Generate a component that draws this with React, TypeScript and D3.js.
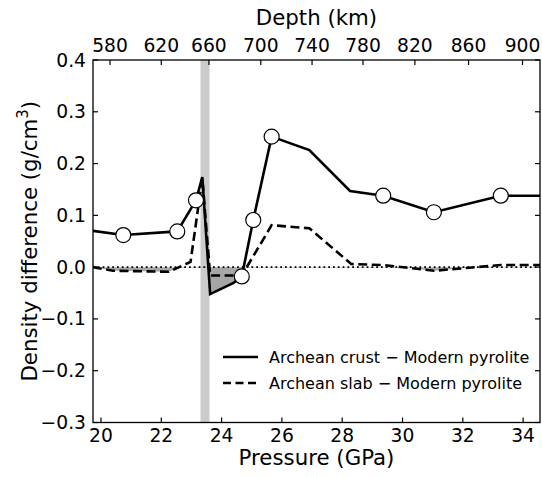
import React from "react";
import * as d3 from "d3";

// Archean crust − Modern pyrolite (solid)
const crustP = [19.73, 20.74, 22.53, 23.15, 23.36, 23.62, 24.38, 24.67, 25.05, 25.66, 26.91, 28.26, 29.36, 31.04, 33.26, 34.57];
const crustV = [0.070, 0.062, 0.069, 0.129, 0.174, -0.052, -0.031, -0.018, 0.091, 0.252, 0.226, 0.147, 0.138, 0.106, 0.138, 0.138];
const crustMarker = [false, true, true, true, false, false, false, true, true, true, false, false, true, true, true, false];

// Archean slab − Modern pyrolite (dashed)
const slabP = [19.73, 20.4, 22.25, 22.97, 23.36, 23.62, 24.67, 25.66, 26.91, 28.3, 29.36, 31.04, 33.26, 34.57];
const slabV = [0.0, -0.007, -0.009, 0.01, 0.172, -0.016, -0.016, 0.081, 0.075, 0.006, 0.004, -0.007, 0.004, 0.004];

const pressureTicks = [20, 22, 24, 26, 28, 30, 32, 34];
const densityTicks = [-0.3, -0.2, -0.1, 0.0, 0.1, 0.2, 0.3, 0.4];
const depthTicks = [580, 620, 660, 700, 740, 780, 820, 860, 900];
const depthTickPressure = [20.3, 22.0, 23.58, 25.3, 27.0, 28.69, 30.41, 32.19, 33.98];
const phaseBoundary = [23.3, 23.6];

const legendLabels = ["Archean crust \u2212 Modern pyrolite", "Archean slab \u2212 Modern pyrolite"];

const W = 542;
const H = 477;
const L = 93, R = 540, T = 60, B = 422.5;
const FONT = "DejaVu Sans, sans-serif";

export default function App() {
  const x = d3.scaleLinear().domain([19.735, 34.56]).range([L, R]);
  const y = d3.scaleLinear().domain([-0.3, 0.4]).range([B, T]);
  const depthToP = d3.scaleLinear().domain(depthTicks).range(depthTickPressure);

  const crust = crustP.map((p, i) => ({ p, v: crustV[i], m: crustMarker[i] }));
  const slab = slabP.map((p, i) => ({ p, v: slabV[i] }));

  const line = d3.line<{ p: number; v: number }>().x(d => x(d.p)).y(d => y(d.v));
  const area = d3.area<{ p: number; v: number }>().x(d => x(d.p)).y0(y(0)).y1(d => y(d.v));

  const tickLen = 5;
  const tickFont = 18.7;

  return (
    <div style={{ position: "absolute", left: 0, top: 0 }}>
      <svg width={W} height={H} style={{ display: "block", background: "#fff" }} fontFamily={FONT}>
        <defs>
          <clipPath id="below0">
            <rect x={L} y={y(0)} width={R - L} height={B - y(0)} />
          </clipPath>
          <clipPath id="plot">
            <rect x={L} y={T} width={R - L} height={B - T} />
          </clipPath>
        </defs>

        {/* phase boundary band */}
        <rect x={x(phaseBoundary[0])} y={T} width={x(phaseBoundary[1]) - x(phaseBoundary[0])} height={B - T} fill="#cccccc" />

        {/* negative fills */}
        <g clipPath="url(#below0)">
          <path d={area(crust) || ""} fill="#a6a6a6" />
          <path d={area(slab) || ""} fill="#a6a6a6" />
        </g>

        {/* zero line */}
        <line x1={L} x2={R} y1={y(0)} y2={y(0)} stroke="#000" strokeWidth={1.8} strokeDasharray="1.8,3" />

        <g clipPath="url(#plot)">
          <path d={line(slab) || ""} fill="none" stroke="#000" strokeWidth={2.6} strokeDasharray="9,4.5" strokeLinejoin="miter" />
          <path d={line(crust) || ""} fill="none" stroke="#000" strokeWidth={2.6} strokeLinejoin="miter" />
        </g>
        {crust.filter(d => d.m).map((d, i) => (
          <circle key={i} cx={x(d.p)} cy={y(d.v)} r={7.5} fill="#fff" stroke="#000" strokeWidth={1.2} />
        ))}

        {/* frame */}
        <rect x={L} y={T} width={R - L} height={B - T} fill="none" stroke="#000" strokeWidth={1.3} />

        {/* bottom ticks */}
        {pressureTicks.map(t => (
          <g key={"b" + t}>
            <line x1={x(t)} x2={x(t)} y1={B} y2={B - tickLen} stroke="#000" strokeWidth={1.2} />
            <text x={x(t)} y={442} textAnchor="middle" fontSize={tickFont}>{t}</text>
          </g>
        ))}

        {/* top depth ticks */}
        {depthTicks.map(t => (
          <g key={"t" + t}>
            <line x1={x(depthToP(t))} x2={x(depthToP(t))} y1={T} y2={T + tickLen} stroke="#000" strokeWidth={1.2} />
            <text x={x(depthToP(t))} y={52} textAnchor="middle" fontSize={tickFont}>{t}</text>
          </g>
        ))}

        {/* left / right ticks */}
        {densityTicks.map(t => (
          <g key={"l" + t}>
            <line x1={L} x2={L + tickLen} y1={y(t)} y2={y(t)} stroke="#000" strokeWidth={1.2} />
            <line x1={R} x2={R - tickLen} y1={y(t)} y2={y(t)} stroke="#000" strokeWidth={1.2} />
            <text x={86} y={y(t)} textAnchor="end" dominantBaseline="central" fontSize={tickFont}>{d3.format(".1f")(t)}</text>
          </g>
        ))}

        {/* axis labels */}
        <text x={(L + R) / 2} y={465} textAnchor="middle" fontSize={21.3}>Pressure (GPa)</text>
        <text x={(L + R) / 2} y={25} textAnchor="middle" fontSize={21.3}>Depth (km)</text>
        <text transform={`translate(37, ${(T + B) / 2}) rotate(-90)`} textAnchor="middle" fontSize={21.3}>
          Density difference (g/cm<tspan baseline-shift="super" fontSize={15}>3</tspan>)
        </text>

        {/* legend */}
        <line x1={223} x2={258} y1={357} y2={357} stroke="#000" strokeWidth={2.6} />
        <text x={269} y={363} fontSize={16}>{legendLabels[0]}</text>
        <line x1={223} x2={258} y1={383} y2={383} stroke="#000" strokeWidth={2.6} strokeDasharray="8,4.5" />
        <text x={269} y={389} fontSize={16}>{legendLabels[1]}</text>
      </svg>
    </div>
  );
}
